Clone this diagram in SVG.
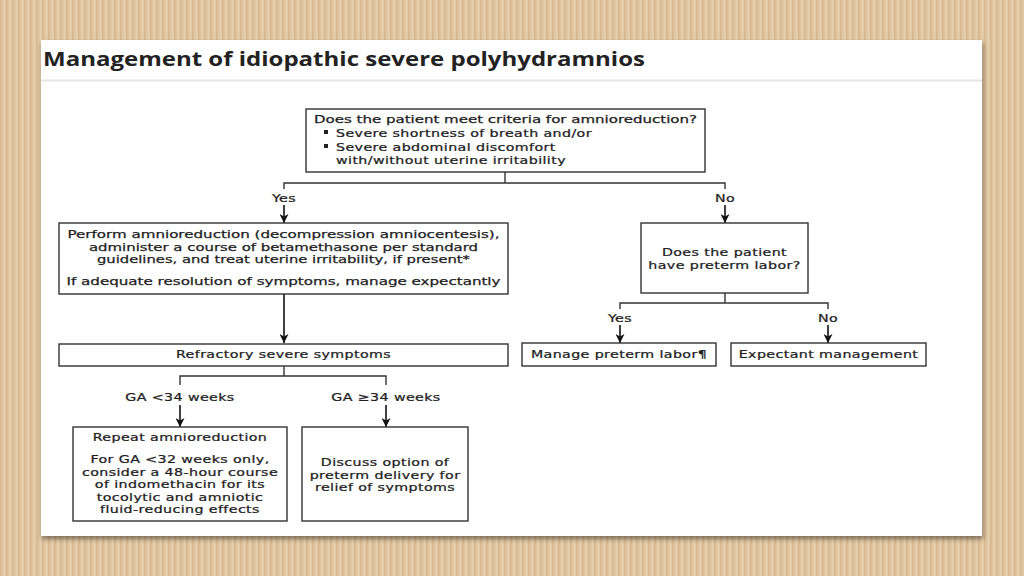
<svg xmlns="http://www.w3.org/2000/svg" width="1024" height="576" viewBox="0 0 1024 576">
<defs>
<pattern id="wood" x="0" y="0" width="6" height="576" patternUnits="userSpaceOnUse">
<rect width="6" height="576" fill="#e2c7a3"/>
<rect x="0" width="2" height="576" fill="#d8bb95"/>
<rect x="4" width="1" height="576" fill="#e8d0ae"/>
</pattern>
<filter id="sh" x="-5%" y="-5%" width="110%" height="115%">
<feGaussianBlur in="SourceAlpha" stdDeviation="2.5"/>
<feOffset dx="1" dy="3"/>
<feComponentTransfer><feFuncA type="linear" slope="0.45"/></feComponentTransfer>
<feMerge><feMergeNode/><feMergeNode in="SourceGraphic"/></feMerge>
</filter>
<marker id="ah" viewBox="0 0 9 9" refX="9" refY="4.5" markerWidth="9" markerHeight="9" markerUnits="userSpaceOnUse" orient="auto">
<path d="M0,0 L9,4.5 L0,9 L2.5,4.5 Z" fill="#111"/>
</marker>
<style>
.box{fill:#fff;stroke:#333;stroke-width:1.4}
.t{font-family:"DejaVu Sans",Verdana,sans-serif;font-size:10.7px;letter-spacing:0.3px;fill:#1e1e1e;stroke:#1e1e1e;stroke-width:0.25}
.w{letter-spacing:0}
.c{text-anchor:middle}
.ln{fill:none;stroke:#333;stroke-width:1.4}
.ar{fill:none;stroke:#111;stroke-width:1.6;marker-end:url(#ah)}
</style>
</defs>
<rect width="1024" height="576" fill="url(#wood)"/>
<rect x="41" y="40" width="941" height="496" fill="#fff" filter="url(#sh)"/>
<line x1="41" y1="80.5" x2="982" y2="80.5" stroke="#e6e6e6" stroke-width="2"/>
<text x="43" y="66" font-family="'Open Sans',sans-serif" font-weight="bold" font-size="20" fill="#222" textLength="602" lengthAdjust="spacingAndGlyphs">Management of idiopathic severe polyhydramnios</text>

<g id="connectors">
<polyline class="ln" points="505,172 505,183"/>
<polyline class="ln" points="284,189 284,183 725,183 725,189"/>
<line class="ar" x1="284" y1="205" x2="284" y2="223"/>
<line class="ar" x1="725" y1="205" x2="725" y2="223"/>
<line class="ar" x1="284" y1="294" x2="284" y2="343"/>
<polyline class="ln" points="725,293 725,303"/>
<polyline class="ln" points="620,309 620,303 828,303 828,309"/>
<line class="ar" x1="620" y1="325" x2="620" y2="343"/>
<line class="ar" x1="828" y1="325" x2="828" y2="343"/>
<polyline class="ln" points="284,366 284,376"/>
<polyline class="ln" points="180,385 180,376 386,376 386,385"/>
<line class="ar" x1="180" y1="405" x2="180" y2="427"/>
<line class="ar" x1="386" y1="405" x2="386" y2="427"/>
<text class="t c" transform="translate(284,202) scale(1.33,1)">Yes</text>
<text class="t c" transform="translate(725,202) scale(1.33,1)">No</text>
<text class="t c" transform="translate(620,322) scale(1.33,1)">Yes</text>
<text class="t c" transform="translate(828,322) scale(1.33,1)">No</text>
<text class="t c" transform="translate(180,401) scale(1.33,1)">GA &lt;34 weeks</text>
<text class="t c" transform="translate(386,401) scale(1.33,1)">GA ≥34 weeks</text>
</g>

<g id="criteria">
<rect class="box" x="306" y="109" width="399" height="63"/>
<text class="t w" x="314" y="123" textLength="383" lengthAdjust="spacingAndGlyphs">Does the patient meet criteria for amnioreduction?</text>
<rect x="324" y="130" width="4" height="4" fill="#222"/>
<text class="t" transform="translate(336,137) scale(1.33,1)">Severe shortness of breath and/or</text>
<rect x="324" y="144" width="4" height="4" fill="#222"/>
<text class="t" transform="translate(336,151) scale(1.33,1)">Severe abdominal discomfort</text>
<text class="t" transform="translate(336,164) scale(1.33,1)">with/without uterine irritability</text>
</g>

<g id="amnioreduction">
<rect class="box" x="59" y="223" width="449" height="71"/>
<text class="t c w" x="283.5" y="238" textLength="432" lengthAdjust="spacingAndGlyphs">Perform amnioreduction (decompression amniocentesis),</text>
<text class="t c w" x="283.5" y="250.5" textLength="389" lengthAdjust="spacingAndGlyphs">administer a course of betamethasone per standard</text>
<text class="t c w" x="283.5" y="263" textLength="373" lengthAdjust="spacingAndGlyphs">guidelines, and treat uterine irritability, if present*</text>
<text class="t c w" x="283.5" y="285" textLength="434" lengthAdjust="spacingAndGlyphs">If adequate resolution of symptoms, manage expectantly</text>
</g>

<g id="preterm-question">
<rect class="box" x="641" y="223" width="167" height="70"/>
<text class="t c" transform="translate(724.5,256) scale(1.33,1)">Does the patient</text>
<text class="t c" transform="translate(724.5,269) scale(1.33,1)">have preterm labor?</text>
</g>

<g id="refractory">
<rect class="box" x="59" y="344" width="449" height="22"/>
<text class="t c" transform="translate(283.5,358) scale(1.33,1)">Refractory severe symptoms</text>
</g>

<g id="manage-preterm">
<rect class="box" x="522" y="343" width="194" height="23"/>
<text class="t c" transform="translate(619,358) scale(1.33,1)">Manage preterm labor¶</text>
</g>

<g id="expectant">
<rect class="box" x="731" y="343" width="195" height="23"/>
<text class="t c" transform="translate(828.5,358) scale(1.33,1)">Expectant management</text>
</g>

<g id="repeat">
<rect class="box" x="73" y="427" width="214" height="94"/>
<text class="t c" transform="translate(180,441) scale(1.33,1)">Repeat amnioreduction</text>
<text class="t c" transform="translate(180,463) scale(1.33,1)">For GA &lt;32 weeks only,</text>
<text class="t c" transform="translate(180,475.5) scale(1.33,1)">consider a 48-hour course</text>
<text class="t c" transform="translate(180,488) scale(1.33,1)">of indomethacin for its</text>
<text class="t c" transform="translate(180,500.5) scale(1.33,1)">tocolytic and amniotic</text>
<text class="t c" transform="translate(180,513) scale(1.33,1)">fluid-reducing effects</text>
</g>

<g id="delivery">
<rect class="box" x="302" y="427" width="166" height="94"/>
<text class="t c" transform="translate(385,466) scale(1.33,1)">Discuss option of</text>
<text class="t c" transform="translate(385,478.5) scale(1.33,1)">preterm delivery for</text>
<text class="t c" transform="translate(385,491) scale(1.33,1)">relief of symptoms</text>
</g>
</svg>
